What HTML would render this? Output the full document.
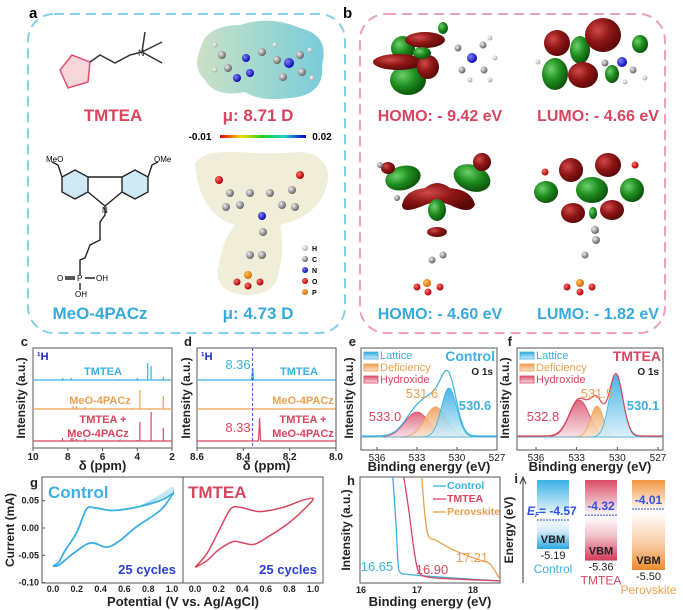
<!DOCTYPE html>
<html><head><meta charset="utf-8">
<style>
html,body{margin:0;padding:0;background:#fff;}
svg{display:block;font-family:"Liberation Sans",Arial,sans-serif;}
.b{font-weight:bold;}
</style></head>
<body>
<svg id="fig" width="683" height="610" viewBox="0 0 683 610" xmlns="http://www.w3.org/2000/svg">
<defs>
 <radialGradient id="gR" cx="35%" cy="35%" r="70%"><stop offset="0" stop-color="#d04a4a"/><stop offset="0.5" stop-color="#8e1616"/><stop offset="1" stop-color="#5a0707"/></radialGradient>
 <radialGradient id="gG" cx="35%" cy="35%" r="70%"><stop offset="0" stop-color="#6fd06f"/><stop offset="0.5" stop-color="#1f8f1f"/><stop offset="1" stop-color="#0b500b"/></radialGradient>
 <radialGradient id="atC" cx="35%" cy="35%" r="65%"><stop offset="0" stop-color="#eee"/><stop offset="1" stop-color="#666"/></radialGradient>
 <radialGradient id="atH" cx="35%" cy="35%" r="65%"><stop offset="0" stop-color="#fff"/><stop offset="1" stop-color="#aaa"/></radialGradient>
 <radialGradient id="atN" cx="35%" cy="35%" r="65%"><stop offset="0" stop-color="#8080ff"/><stop offset="1" stop-color="#0a0ab0"/></radialGradient>
 <radialGradient id="atO" cx="35%" cy="35%" r="65%"><stop offset="0" stop-color="#ff7070"/><stop offset="1" stop-color="#b00000"/></radialGradient>
 <radialGradient id="atP" cx="35%" cy="35%" r="65%"><stop offset="0" stop-color="#ffc060"/><stop offset="1" stop-color="#d07000"/></radialGradient>
 <linearGradient id="esp1" x1="0" y1="0" x2="1" y2="0"><stop offset="0" stop-color="#c8dcc0"/><stop offset="0.4" stop-color="#9fd6c8"/><stop offset="1" stop-color="#6cc6d6"/></linearGradient>
 <linearGradient id="cbar" x1="0" y1="0" x2="1" y2="0"><stop offset="0" stop-color="#e00000"/><stop offset="0.25" stop-color="#f0e000"/><stop offset="0.5" stop-color="#20d020"/><stop offset="0.75" stop-color="#20d0d0"/><stop offset="1" stop-color="#0000c0"/></linearGradient>
 <linearGradient id="fillB" x1="0" y1="0" x2="0" y2="1"><stop offset="0" stop-color="#2aa8e0"/><stop offset="1" stop-color="#d6effa"/></linearGradient>
 <linearGradient id="fillO" x1="0" y1="0" x2="0" y2="1"><stop offset="0" stop-color="#ee9a50"/><stop offset="1" stop-color="#fbe6d2"/></linearGradient>
 <linearGradient id="fillR" x1="0" y1="0" x2="0" y2="1"><stop offset="0" stop-color="#d8506a"/><stop offset="1" stop-color="#f8dde2"/></linearGradient>
 <linearGradient id="barB" x1="0" y1="0" x2="0" y2="1"><stop offset="0" stop-color="#3ab0e4"/><stop offset="0.55" stop-color="#ffffff"/><stop offset="0.75" stop-color="#cfeaf7"/><stop offset="1" stop-color="#2aa8e0"/></linearGradient>
 <linearGradient id="barR" x1="0" y1="0" x2="0" y2="1"><stop offset="0" stop-color="#d94a64"/><stop offset="0.45" stop-color="#ffffff"/><stop offset="0.7" stop-color="#f0c0c8"/><stop offset="1" stop-color="#d43a58"/></linearGradient>
 <linearGradient id="barO" x1="0" y1="0" x2="0" y2="1"><stop offset="0" stop-color="#ef9640"/><stop offset="0.35" stop-color="#ffffff"/><stop offset="0.7" stop-color="#f7cfa8"/><stop offset="1" stop-color="#ec8a30"/></linearGradient>
</defs>

<rect x="28" y="14" width="317" height="319" rx="26" fill="none" stroke="#86cfe8" stroke-width="2" stroke-dasharray="10,6"/>
<rect x="360" y="14" width="305" height="319" rx="26" fill="none" stroke="#eaa3b3" stroke-width="2" stroke-dasharray="10,6"/>
<text x="29" y="18" class="b" font-size="15">a</text>
<text x="343" y="18" class="b" font-size="15">b</text>

<g stroke="#333" stroke-width="1.5" fill="none">
 <polygon points="60,70 72,55 90,62 88,82 68,88" fill="#f7d6dc" stroke="#e05070"/>
 <path d="M90,62 L100,55 L115,63 L130,55 L142,52 M142,52 L145,32 M142,52 L162,42 M142,52 L162,63"/>
</g>
<text x="138" y="56" font-size="9" fill="#333">N</text>
<text x="113" y="121" text-anchor="middle" class="b" font-size="17" fill="#d9455f">TMTEA</text>

<g>
 <path d="M200,50 Q205,25 240,25 Q270,15 300,28 Q330,35 322,65 Q325,95 290,98 Q260,102 245,92 Q215,98 205,80 Q192,68 200,50Z" fill="url(#esp1)" opacity="0.9"/>
 <circle cx="222" cy="55" r="4" fill="url(#atC)"/><circle cx="228" cy="68" r="4" fill="url(#atC)"/>
 <circle cx="246" cy="58" r="4" fill="url(#atN)"/><circle cx="250" cy="73" r="4" fill="url(#atN)"/><circle cx="237" cy="78" r="4" fill="url(#atN)"/>
 <circle cx="262" cy="52" r="4" fill="url(#atC)"/><circle cx="277" cy="60" r="4" fill="url(#atC)"/>
 <circle cx="289" cy="63" r="5" fill="url(#atN)"/><circle cx="300" cy="55" r="4" fill="url(#atC)"/><circle cx="302" cy="72" r="4" fill="url(#atC)"/><circle cx="283" cy="77" r="4" fill="url(#atC)"/>
 <circle cx="215" cy="45" r="2.5" fill="url(#atH)"/><circle cx="215" cy="70" r="2.5" fill="url(#atH)"/><circle cx="310" cy="50" r="2.5" fill="url(#atH)"/><circle cx="312" cy="78" r="2.5" fill="url(#atH)"/><circle cx="275" cy="45" r="2.5" fill="url(#atH)"/>
</g>
<text x="258" y="121" text-anchor="middle" class="b" font-size="17" fill="#d9455f">μ: 8.71 D</text>
<text x="200" y="140" text-anchor="middle" class="b" font-size="10">-0.01</text>
<rect x="220" y="135" width="86" height="3" fill="url(#cbar)"/>
<text x="322" y="140" text-anchor="middle" class="b" font-size="10">0.02</text>

<g stroke="#222" stroke-width="1.4">
 <polygon points="75,170 88,177 88,192 75,199 62,192 62,177" fill="#cfe9f5"/>
 <polygon points="135,170 148,177 148,192 135,199 122,192 122,177" fill="#cfe9f5"/>
 <path d="M88,177 L122,177 M88,192 L105,206 L122,192 M62,177 L58,165 L52,162 M148,177 L152,165 L158,162 M105,206 L105,215 L100,222 L100,240 L90,245 L85,258 L80,260 L80,275" fill="none"/>
 <path d="M65,277 L75,277 M65,279 L75,279 M85,278 L95,278 M80,283 L80,290" fill="none"/>
</g>
<text x="46" y="162" font-size="8">MeO</text>
<text x="154" y="162" font-size="8">OMe</text>
<text x="102" y="213" font-size="8">N</text>
<text x="57" y="281" font-size="8">O</text>
<text x="77" y="281" font-size="8">P</text>
<text x="96" y="281" font-size="8">OH</text>
<text x="75" y="297" font-size="8">OH</text>
<text x="100" y="319" text-anchor="middle" class="b" font-size="17" fill="#35aadc">MeO-4PACz</text>

<g>
 <path d="M195,165 Q200,150 240,152 Q270,155 300,152 Q330,155 328,180 Q322,215 280,225 Q285,250 278,275 Q275,295 245,295 Q215,292 218,270 Q222,240 235,225 Q200,215 195,165Z" fill="#ece9cf" opacity="0.8"/>
 <circle cx="219" cy="180" r="4" fill="url(#atO)"/><circle cx="300" cy="175" r="4" fill="url(#atO)"/>
 <circle cx="230" cy="193" r="4" fill="url(#atC)"/><circle cx="240" cy="205" r="4" fill="url(#atC)"/><circle cx="250" cy="193" r="4" fill="url(#atC)"/><circle cx="270" cy="193" r="4" fill="url(#atC)"/><circle cx="282" cy="205" r="4" fill="url(#atC)"/><circle cx="292" cy="190" r="4" fill="url(#atC)"/><circle cx="226" cy="207" r="4" fill="url(#atC)"/><circle cx="295" cy="207" r="4" fill="url(#atC)"/>
 <circle cx="262" cy="216" r="4" fill="url(#atN)"/>
 <circle cx="263" cy="232" r="4" fill="url(#atC)"/><circle cx="250" cy="255" r="4" fill="url(#atC)"/><circle cx="262" cy="255" r="4" fill="url(#atC)"/>
 <circle cx="248" cy="275" r="4" fill="url(#atP)"/><circle cx="237" cy="282" r="3.5" fill="url(#atO)"/><circle cx="248" cy="286" r="3.5" fill="url(#atO)"/><circle cx="260" cy="282" r="3.5" fill="url(#atO)"/>
 <circle cx="305" cy="248" r="3" fill="url(#atH)"/><circle cx="305" cy="259" r="3" fill="url(#atC)"/><circle cx="305" cy="270" r="3" fill="url(#atN)"/><circle cx="305" cy="281" r="3" fill="url(#atO)"/><circle cx="305" cy="292" r="3" fill="url(#atP)"/>
</g>
<g font-size="7" class="b">
 <text x="312" y="251">H</text><text x="312" y="262">C</text><text x="312" y="273">N</text><text x="312" y="284">O</text><text x="312" y="295">P</text>
</g>
<text x="258" y="319" text-anchor="middle" class="b" font-size="17" fill="#35aadc">μ: 4.73 D</text>

<g>
 <ellipse cx="403" cy="48" rx="12" ry="12" fill="url(#gG)"/>
 <ellipse cx="408" cy="80" rx="18" ry="15" fill="url(#gG)"/>
 <ellipse cx="398" cy="62" rx="25" ry="8" fill="url(#gR)"/>
 <ellipse cx="425" cy="40" rx="20" ry="8" fill="url(#gR)"/>
 <ellipse cx="428" cy="67" rx="11" ry="12" fill="url(#gR)"/>
 <ellipse cx="422" cy="53" rx="9" ry="6" fill="url(#gG)"/>
 <ellipse cx="443" cy="28" rx="5" ry="6" fill="url(#gG)"/>
 <circle cx="472" cy="58" r="5" fill="url(#atN)"/><circle cx="458" cy="48" r="3.5" fill="url(#atC)"/><circle cx="462" cy="70" r="3.5" fill="url(#atC)"/><circle cx="483" cy="45" r="3.5" fill="url(#atC)"/><circle cx="484" cy="70" r="3.5" fill="url(#atC)"/>
 <circle cx="490" cy="38" r="2.5" fill="url(#atH)"/><circle cx="495" cy="58" r="2.5" fill="url(#atH)"/><circle cx="490" cy="80" r="2.5" fill="url(#atH)"/><circle cx="470" cy="80" r="2.5" fill="url(#atH)"/>
</g>
<text x="440" y="121" text-anchor="middle" class="b" font-size="16" fill="#d9455f">HOMO: - 9.42 eV</text>
<g>
 <ellipse cx="557" cy="43" rx="13" ry="13" fill="url(#gR)"/>
 <ellipse cx="580" cy="50" rx="10" ry="14" fill="url(#gG)"/>
 <ellipse cx="603" cy="35" rx="18" ry="17" fill="url(#gR)"/>
 <ellipse cx="555" cy="74" rx="13" ry="16" fill="url(#gG)"/>
 <ellipse cx="583" cy="75" rx="15" ry="13" fill="url(#gR)"/>
 <ellipse cx="640" cy="44" rx="8" ry="9" fill="url(#gG)"/>
 <ellipse cx="612" cy="74" rx="7" ry="9" fill="url(#gG)"/>
 <circle cx="622" cy="62" r="5" fill="url(#atN)"/><circle cx="633" cy="70" r="3.5" fill="url(#atC)"/><circle cx="605" cy="63" r="3.5" fill="url(#atC)"/>
 <circle cx="645" cy="78" r="2.5" fill="url(#atH)"/><circle cx="625" cy="82" r="2.5" fill="url(#atH)"/><circle cx="538" cy="62" r="2.5" fill="url(#atH)"/>
</g>
<text x="598" y="121" text-anchor="middle" class="b" font-size="16" fill="#d9455f">LUMO: - 4.66 eV</text>
<g>
 <ellipse cx="403" cy="178" rx="18" ry="12" fill="url(#gG)" transform="rotate(-15 403 178)"/>
 <ellipse cx="472" cy="178" rx="19" ry="13" fill="url(#gG)" transform="rotate(20 472 178)"/>
 <path d="M402,205 Q405,190 425,188 Q437,178 450,188 Q472,190 475,205 Q470,215 450,205 Q437,200 425,205 Q402,215 402,205Z" fill="url(#gR)"/>
 <ellipse cx="482" cy="162" rx="9" ry="9" fill="url(#gR)"/>
 <ellipse cx="388" cy="168" rx="7" ry="6" fill="url(#gR)"/>
 <ellipse cx="437" cy="210" rx="9" ry="11" fill="url(#gG)"/>
 <ellipse cx="437" cy="232" rx="10" ry="5" fill="url(#gR)"/>
 <circle cx="432" cy="260" r="3.5" fill="url(#atC)"/><circle cx="443" cy="255" r="3.5" fill="url(#atC)"/>
 <circle cx="427" cy="283" r="4" fill="url(#atP)"/><circle cx="417" cy="287" r="3.5" fill="url(#atO)"/><circle cx="428" cy="292" r="3.5" fill="url(#atO)"/><circle cx="440" cy="287" r="3.5" fill="url(#atO)"/>
 <circle cx="380" cy="165" r="3" fill="url(#atC)"/><circle cx="397" cy="198" r="3" fill="url(#atC)"/>
</g>
<text x="440" y="319" text-anchor="middle" class="b" font-size="16" fill="#35aadc">HOMO: - 4.60 eV</text>
<g>
 <ellipse cx="571" cy="170" rx="12" ry="12" fill="url(#gR)"/>
 <ellipse cx="608" cy="165" rx="13" ry="12" fill="url(#gR)"/>
 <ellipse cx="546" cy="192" rx="12" ry="11" fill="url(#gG)"/>
 <ellipse cx="592" cy="190" rx="16" ry="13" fill="url(#gG)"/>
 <ellipse cx="632" cy="190" rx="12" ry="12" fill="url(#gG)"/>
 <ellipse cx="573" cy="213" rx="12" ry="10" fill="url(#gR)"/>
 <ellipse cx="612" cy="210" rx="12" ry="10" fill="url(#gR)"/>
 <ellipse cx="593" cy="213" rx="4" ry="6" fill="url(#gG)"/>
 <circle cx="545" cy="172" r="3.5" fill="url(#atO)"/><circle cx="635" cy="165" r="3.5" fill="url(#atO)"/>
 <circle cx="595" cy="230" r="4" fill="url(#atC)"/><circle cx="596" cy="240" r="4" fill="url(#atC)"/><circle cx="585" cy="255" r="3.5" fill="url(#atC)"/>
 <circle cx="580" cy="283" r="4" fill="url(#atP)"/><circle cx="567" cy="287" r="3.5" fill="url(#atO)"/><circle cx="580" cy="292" r="3.5" fill="url(#atO)"/><circle cx="592" cy="287" r="3.5" fill="url(#atO)"/>
</g>
<text x="598" y="319" text-anchor="middle" class="b" font-size="16" fill="#35aadc">LUMO: - 1.82 eV</text>

<g id="charts"></g>
</svg>
<script>
// panel c: 1H NMR peaks (ppm, height)
const nmrTmteaPpm = [8.3, 7.8, 5.0, 4.0, 3.4, 3.2, 2.5];
const nmrTmteaH = [2, 2, 1, 2, 17, 14, 3];
const nmrMeoPpm = [7.7, 7.5, 7.0, 4.3, 3.85, 2.5];
const nmrMeoH = [3, 3, 2, 1, 19, 13];
const nmrMixPpm = [8.3, 7.8, 7.7, 7.5, 7.0, 5.0, 4.0, 3.85, 3.2, 2.5];
const nmrMixH = [3, 3, 3, 2, 2, 1, 1, 19, 29, 13];
const ppmTicksC = [10, 8, 6, 4, 2];
// panel d
const dPeakPpm = [8.36, 8.33];
const dPeakH = [12, 23];
const ppmTicksD = [8.6, 8.4, 8.2, 8.0];
// panel e/f
const xpsLabels = ["Hydroxide", "Deficiency", "Lattice"];
const xpsCtrlCenter = [533.0, 531.6, 530.6];
const xpsCtrlHeight = [25, 30, 49];
const xpsCtrlFwhm = [2.1, 1.9, 1.35];
const xpsTmCenter = [532.8, 531.5, 530.1];
const xpsTmHeight = [37, 31, 62];
const xpsTmFwhm = [1.7, 1.1, 1.2];
const beTicks = [536, 533, 530, 527];
// panel g
const cvCtrlV = [0, 0.05, 0.1, 0.2, 0.28, 0.35, 0.5, 0.7, 0.9, 1.0, 1.0, 0.9, 0.7, 0.55, 0.45, 0.35, 0.28, 0.15, 0.05, 0];
const cvCtrlI = [-0.07, -0.062, -0.042, -0.008, 0.034, 0.037, 0.032, 0.038, 0.05, 0.062, 0.06, 0.032, 0.002, -0.025, -0.035, -0.028, -0.03, -0.05, -0.068, -0.07];
const cvTmV = [0, 0.1, 0.2, 0.3, 0.38, 0.55, 0.75, 0.9, 1.0, 0.95, 0.8, 0.62, 0.5, 0.4, 0.32, 0.2, 0.1, 0];
const cvTmI = [-0.072, -0.047, -0.006, 0.034, 0.038, 0.03, 0.038, 0.05, 0.054, 0.04, 0.01, -0.016, -0.03, -0.027, -0.025, -0.04, -0.06, -0.072];
const cvXTicks = [0, 0.2, 0.4, 0.6, 0.8, 1.0];
const cvYTicks = [0.05, 0.0, -0.05, -0.10];
// panel h
const upsCtrlE = [16.56, 16.62, 16.66, 16.70, 16.85, 17.3, 18.0, 18.5];
const upsCtrlI = [1.05, 0.6, 0.2, 0.1, 0.08, 0.06, 0.035, 0.02];
const upsTmE = [16.75, 16.85, 16.95, 17.02, 17.15, 17.6, 18.5];
const upsTmI = [1.05, 0.7, 0.3, 0.12, 0.06, 0.04, 0.02];
const upsPvE = [17.08, 17.13, 17.2, 17.35, 17.7, 18.1, 18.3, 18.5];
const upsPvI = [1.05, 0.7, 0.45, 0.4, 0.3, 0.22, 0.18, 0.02];
const upsTicks = [16, 17, 18];
const upsCutoffs = ["16.65", "16.90", "17.21"];
// panel i
const levelNames = ["Control", "TMTEA", "Perovskite"];
const levelEf = [-4.57, -4.32, -4.01];
const levelVbm = [-5.19, -5.36, -5.50];

const NS = "http://www.w3.org/2000/svg";
const root = document.getElementById("charts");
function mk(tag, attrs, parent, text) {
  const e = document.createElementNS(NS, tag);
  for (const k in attrs) e.setAttribute(k, attrs[k]);
  if (text !== undefined) e.textContent = text;
  (parent || root).appendChild(e);
  return e;
}
function smooth(pts) {
  let d = "M" + pts[0][0].toFixed(1) + "," + pts[0][1].toFixed(1);
  for (let i = 0; i < pts.length - 1; i++) {
    const p0 = pts[i - 1] || pts[i], p1 = pts[i], p2 = pts[i + 1], p3 = pts[i + 2] || p2;
    const c1x = p1[0] + (p2[0] - p0[0]) / 6, c1y = p1[1] + (p2[1] - p0[1]) / 6;
    const c2x = p2[0] - (p3[0] - p1[0]) / 6, c2y = p2[1] - (p3[1] - p1[1]) / 6;
    d += " C" + c1x.toFixed(1) + "," + c1y.toFixed(1) + " " + c2x.toFixed(1) + "," + c2y.toFixed(1) + " " + p2[0].toFixed(1) + "," + p2[1].toFixed(1);
  }
  return d;
}
const BLUE = "#3cb1e2", RED = "#d9455f", ORANGE = "#eda04e", DBLUE = "#2a3fd6";
function frame(x, y, w, h, name) {
  const r = mk("rect", {x: x, y: y, width: w, height: h, fill: "none", stroke: "#555", "stroke-width": 1});
  
  
}
function label(x, y, txt, opts, name) {
  const a = Object.assign({x: x, y: y, "font-size": 11, "font-weight": "bold", fill: "#222"}, opts || {});
  const t = mk("text", a, root, txt);
  
  
  return t;
}
function ytitle(x, y, txt, name) {
  return label(x, y, txt, {"text-anchor": "middle", "font-size": 12, transform: "rotate(-90 " + x + " " + y + ")"}, name);
}

// panel c
(function () {
  const x0 = 33, x1 = 172, top = 348, bot = 448;
  const xs = p => x0 + (10 - p) / 8 * (x1 - x0);
  frame(x0, top, x1 - x0, bot - top, "panel-c-frame");
  label(x0 - 5, top - 2, "c", {"font-size": 13, "text-anchor": "end"}, "panel-c-label");
  label(37, 360, "¹H", {fill: "#1a2fb0"}, "nucleus-label-c");
  ytitle(25, 398, "Intensity (a.u.)", "y-axis-title-c");
  ppmTicksC.forEach(p => {
    const l = mk("line", {x1: xs(p), x2: xs(p), y1: bot, y2: bot + 3, stroke: "#555"});
    
    
    label(xs(p), bot + 12, String(p), {"text-anchor": "middle", "font-size": 10}, "x-tick-label-c");
  });
  label((x0 + x1) / 2, 470, "δ (ppm)", {"text-anchor": "middle", "font-size": 13}, "x-axis-title-c");
  const sets = [[nmrTmteaPpm, nmrTmteaH, 380, BLUE, "spectrum-tmtea"], [nmrMeoPpm, nmrMeoH, 409, ORANGE, "spectrum-meo4pacz"], [nmrMixPpm, nmrMixH, 441, RED, "spectrum-mixture"]];
  sets.forEach(s => {
    let d = "M" + x0 + "," + s[2] + " L" + x1 + "," + s[2];
    s[0].forEach((p, i) => { d += " M" + xs(p).toFixed(1) + "," + s[2] + " L" + xs(p).toFixed(1) + "," + (s[2] - s[1][i]); });
    const path = mk("path", {d: d, stroke: s[3], "stroke-width": 1.2, fill: "none"});
    
    
  });
  label(103, 375, "TMTEA", {"text-anchor": "middle", fill: BLUE}, "series-label-tmtea-c");
  label(100, 404, "MeO-4PACz", {"text-anchor": "middle", fill: ORANGE}, "series-label-meo-c");
  label(103, 423, "TMTEA +", {"text-anchor": "middle", fill: RED}, "series-label-mix1-c");
  label(98, 437, "MeO-4PACz", {"text-anchor": "middle", fill: RED}, "series-label-mix2-c");
})();

// panel d
(function () {
  const x0 = 197, x1 = 336, top = 348, bot = 448;
  const xs = p => x0 + (8.6 - p) / 0.6 * (x1 - x0);
  frame(x0, top, x1 - x0, bot - top, "panel-d-frame");
  label(x0 - 5, top - 2, "d", {"font-size": 13, "text-anchor": "end"}, "panel-d-label");
  label(201, 360, "¹H", {fill: "#1a2fb0"}, "nucleus-label-d");
  ytitle(190, 398, "Intensity (a.u.)", "y-axis-title-d");
  ppmTicksD.forEach(p => {
    const l = mk("line", {x1: xs(p), x2: xs(p), y1: bot, y2: bot + 3, stroke: "#555"});
    
    
    label(xs(p), bot + 12, p.toFixed(1), {"text-anchor": "middle", "font-size": 10}, "x-tick-label-d");
  });
  label((x0 + x1) / 2, 470, "δ (ppm)", {"text-anchor": "middle", "font-size": 13}, "x-axis-title-d");
  const base = [380, 409, 441], cols = [BLUE, ORANGE, RED];
  const peakOf = [0, -1, 1];
  base.forEach((b, k) => {
    const pts = [];
    for (let p = 8.6; p >= 8.0; p -= 0.002) {
      let v = 0;
      if (peakOf[k] >= 0) { const c = dPeakPpm[peakOf[k]]; v = dPeakH[peakOf[k]] * Math.exp(-Math.pow((p - c) / 0.0025, 2)); }
      pts.push(xs(p).toFixed(1) + "," + (b - v).toFixed(1));
    }
    const pl = mk("polyline", {points: pts.join(" "), fill: "none", stroke: cols[k], "stroke-width": 1.2});
    
    
  });
  const dl = mk("line", {x1: xs(dPeakPpm[0]), x2: xs(dPeakPpm[0]), y1: top, y2: bot, stroke: "#3a50e0", "stroke-dasharray": "3,2"});
  
  
  label(238, 369, dPeakPpm[0].toFixed(2), {"text-anchor": "middle", "font-size": 13, fill: BLUE, "font-weight": "normal"}, "peak-label-836");
  label(238, 432, dPeakPpm[1].toFixed(2), {"text-anchor": "middle", "font-size": 13, fill: RED, "font-weight": "normal"}, "peak-label-833");
  label(299, 375, "TMTEA", {"text-anchor": "middle", fill: BLUE}, "series-label-tmtea-d");
  label(303, 404, "MeO-4PACz", {"text-anchor": "middle", fill: ORANGE}, "series-label-meo-d");
  label(303, 423, "TMTEA +", {"text-anchor": "middle", fill: RED}, "series-label-mix1-d");
  label(303, 437, "MeO-4PACz", {"text-anchor": "middle", fill: RED}, "series-label-mix2-d");
})();

// panels e, f
function xps(x0, x1, e536, e527, centers, heights, fwhm, envColor, title, titleColor, letter, labelPos) {
  const top = 348, bot = 450, base = 437;
  const xs = E => e536 + (536 - E) / 9 * (e527 - e536);
  const Emin = 536 + (e536 - x0) / ((e527 - e536) / 9), Emax = 536 - (x1 - e536) / ((e527 - e536) / 9);
  frame(x0, top, x1 - x0, bot - top, "panel-" + letter + "-frame");
  label(x0 - 5, top - 2, letter, {"font-size": 13, "text-anchor": "end"}, "panel-" + letter + "-label");
  ytitle(x0 - 8, 398, "Intensity (a.u.)", "y-axis-title-" + letter);
  beTicks.forEach(E => {
    const l = mk("line", {x1: xs(E), x2: xs(E), y1: bot, y2: bot - 3, stroke: "#555"});
    
    
    label(xs(E), bot + 11, String(E), {"text-anchor": "middle", "font-size": 10, "font-weight": "normal"}, "x-tick-label-" + letter);
  });
  label((x0 + x1) / 2, 471, "Binding energy (eV)", {"text-anchor": "middle", "font-size": 13}, "x-axis-title-" + letter);
  const g = E => centers.map((c, i) => heights[i] * Math.exp(-4 * Math.LN2 * Math.pow((E - c) / fwhm[i], 2)));
  const fills = ["url(#fillR)", "url(#fillO)", "url(#fillB)"], strokes = [RED, ORANGE, BLUE];
  for (let i = 0; i < centers.length; i++) {
    let d = "M" + xs(Emin).toFixed(1) + "," + base;
    for (let E = Emin; E >= Emax; E -= 0.05) d += " L" + xs(E).toFixed(1) + "," + (base - g(E)[i]).toFixed(1);
    d += " L" + xs(Emax).toFixed(1) + "," + base + " Z";
    const p = mk("path", {d: d, fill: fills[i], stroke: strokes[i], "stroke-width": 0.8, "fill-opacity": 0.85});
    
    
  }
  let pts = [];
  for (let E = Emin; E >= Emax; E -= 0.05) pts.push(xs(E).toFixed(1) + "," + (base - g(E).reduce((a, b) => a + b, 0) - 1).toFixed(1));
  const env = mk("polyline", {points: pts.join(" "), fill: "none", stroke: envColor, "stroke-width": 1.2});
  
  
  [["Lattice", "url(#fillB)", BLUE, 359], ["Deficiency", "url(#fillO)", ORANGE, 371], ["Hydroxide", "url(#fillR)", RED, 383]].forEach(r => {
    const s = mk("rect", {x: x0 + 3, y: r[3] - 7, width: 14, height: 7, fill: r[1], stroke: r[2], "stroke-width": 0.8});
    
    
    label(x0 + 19, r[3], r[0], {"font-size": 11, fill: r[2], "font-weight": "normal"}, "legend-entry-" + letter);
  });
  label(x1 - 2, 361, title, {"text-anchor": "end", "font-size": 14, fill: titleColor}, "sample-title-" + letter);
  label(x1 - 4, 375, "O 1s", {"text-anchor": "end", "font-size": 10}, "o1s-label-" + letter);
  const cols = [RED, ORANGE, BLUE];
  centers.forEach((c, i) => label(labelPos[i][0], labelPos[i][1], c.toFixed(1), {"text-anchor": "middle", "font-size": 13, fill: cols[i], "font-weight": i === 2 ? "bold" : "normal"}, "peak-value-" + letter));
}
xps(361, 497, 377, 497, xpsCtrlCenter, xpsCtrlHeight, xpsCtrlFwhm, BLUE, "Control", BLUE, "e", [[385, 421], [422, 398], [475, 410]]);
xps(517, 663, 536, 658, xpsTmCenter, xpsTmHeight, xpsTmFwhm, RED, "TMTEA", RED, "f", [[543, 421], [597, 398], [643, 410]]);

// panel g
(function () {
  const top = 477, bot = 583;
  const y = i => 528 - i * 546;
  const xL = v => 53 + v * 119, xR = v => 195 + v * 118;
  frame(42, top, 141, bot - top, "cv-control-frame");
  frame(183, top, 140, bot - top, "cv-tmtea-frame");
  label(30, 487, "g", {"font-size": 13}, "panel-g-label");
  ytitle(14, 530, "Current (mA)", "y-axis-title-g");
  cvYTicks.forEach(t => {
    label(39, y(t) + 3, t.toFixed(2), {"text-anchor": "end", "font-size": 9}, "y-tick-label-g");
    const l = mk("line", {x1: 42, x2: 45, y1: y(t), y2: y(t), stroke: "#555"});
    
    
  });
  cvXTicks.forEach(v => {
    [xL, xR].forEach(f => label(f(v), 592, v.toFixed(1), {"text-anchor": "middle", "font-size": 9}, "x-tick-label-g"));
  });
  label(183, 606, "Potential (V vs. Ag/AgCl)", {"text-anchor": "middle", "font-size": 13}, "x-axis-title-g");
  for (let k = 0; k < 6; k++) {
    const s = 1 + k * 0.04;
    const pts = cvCtrlV.map((v, i) => [xL(v), y(cvCtrlI[i] * (v > 0.8 && i < 10 ? s : 1))]);
    const p = mk("path", {d: smooth(pts), fill: "none", stroke: BLUE, "stroke-width": k === 0 ? 1.8 : 0.8, opacity: k === 0 ? 1 : 0.4});
    
    
  }
  const p2 = mk("path", {d: smooth(cvTmV.map((v, i) => [xR(v), y(cvTmI[i])])), fill: "none", stroke: RED, "stroke-width": 1.5});
  
  
  label(48, 498, "Control", {"font-size": 17, fill: BLUE}, "cv-control-title");
  label(188, 498, "TMTEA", {"font-size": 17, fill: RED}, "cv-tmtea-title");
  label(176, 574, "25 cycles", {"text-anchor": "end", "font-size": 13, fill: DBLUE}, "cycles-label-control");
  label(317, 574, "25 cycles", {"text-anchor": "end", "font-size": 13, fill: DBLUE}, "cycles-label-tmtea");
})();

// panel h
(function () {
  const x0 = 360, x1 = 500, top = 477, bot = 583;
  const xs = E => 361 + (E - 16) * 56;
  const ys = I => bot - I * (bot - top);
  frame(x0, top, x1 - x0, bot - top, "panel-h-frame");
  label(x0 - 5, top + 8, "h", {"font-size": 13, "text-anchor": "end"}, "panel-h-label");
  ytitle(350, 530, "Intensity (a.u.)", "y-axis-title-h");
  upsTicks.forEach(E => {
    label(xs(E), 593, String(E), {"text-anchor": "middle", "font-size": 9}, "x-tick-label-h");
  });
  label(430, 606, "Binding energy (eV)", {"text-anchor": "middle", "font-size": 13}, "x-axis-title-h");
  const cp = mk("clipPath", {id: "clipH"});
  mk("rect", {x: x0, y: top, width: x1 - x0, height: bot - top}, cp);
  [[upsCtrlE, upsCtrlI, BLUE, "ups-control"], [upsTmE, upsTmI, RED, "ups-tmtea"], [upsPvE, upsPvI, ORANGE, "ups-perovskite"]].forEach(s => {
    const p = mk("path", {d: smooth(s[0].map((E, i) => [xs(E), ys(s[1][i])])), fill: "none", stroke: s[2], "stroke-width": 1.3, "clip-path": "url(#clipH)"});
    
    
  });
  [["Control", BLUE, 489], ["TMTEA", RED, 502], ["Perovskite", ORANGE, 515]].forEach(r => {
    const l = mk("line", {x1: 433, x2: 446, y1: r[2] - 3, y2: r[2] - 3, stroke: r[1], "stroke-width": 1.3});
    
    
    label(447, r[2], r[0], {"font-size": 10.5, fill: r[1]}, "legend-entry-h");
  });
  label(377, 571, upsCutoffs[0], {"text-anchor": "middle", "font-size": 13, fill: BLUE, "font-weight": "normal"}, "cutoff-control");
  label(432, 574, upsCutoffs[1], {"text-anchor": "middle", "font-size": 13, fill: RED, "font-weight": "normal"}, "cutoff-tmtea");
  label(472, 562, upsCutoffs[2], {"text-anchor": "middle", "font-size": 13, fill: ORANGE, "font-weight": "normal"}, "cutoff-perovskite");
})();

// panel i
(function () {
  const ax = 523;
  const a = mk("path", {d: "M" + ax + ",583 L" + ax + ",479 M" + (ax - 3) + ",484 L" + ax + ",477 L" + (ax + 3) + ",484", stroke: "#333", "stroke-width": 1, fill: "none"});
  
  
  label(518, 483, "i", {"font-size": 13, "text-anchor": "end"}, "panel-i-label");
  ytitle(513, 530, "Energy (eV)", "y-axis-title-i");
  const yV = E => 549 + (-5.19 - E) * 68;
  const yF = E => 509 + (-4.01 - E) * 19.6;
  const bx = [537, 585, 632], bw = [32, 32, 33];
  const grads = ["url(#barB)", "url(#barR)", "url(#barO)"], cols = [BLUE, RED, ORANGE];
  levelNames.forEach((n, i) => {
    const yb = yV(levelVbm[i]);
    const r = mk("rect", {x: bx[i], y: 480, width: bw[i], height: yb - 480, fill: grads[i]});
    
    
    const yf = yF(levelEf[i]);
    const l = mk("line", {x1: bx[i], x2: bx[i] + bw[i], y1: yf, y2: yf, stroke: "#3050e0", "stroke-dasharray": "2,1", "stroke-width": 1});
    
    
    if (i === 0) {
      label(539, yf - 5, "= " + levelEf[i].toFixed(2), {"font-size": 12, fill: "#3050e0"}, "fermi-value-" + n.toLowerCase());
    } else {
      label(bx[i] + bw[i] / 2, yf - 5, levelEf[i].toFixed(2), {"text-anchor": "middle", "font-size": 12, fill: "#3050e0"}, "fermi-value-" + n.toLowerCase());
    }
    label(bx[i] + bw[i] / 2, yb - 6, "VBM", {"text-anchor": "middle", "font-size": 11}, "vbm-label-" + n.toLowerCase());
    label(bx[i] + bw[i] / 2, yb + 10, levelVbm[i].toFixed(2), {"text-anchor": "middle", "font-size": 11, "font-weight": "normal"}, "vbm-value-" + n.toLowerCase());
    label(bx[i] + bw[i] / 2, yb + 24, n, {"text-anchor": "middle", "font-size": 12, fill: cols[i], "font-weight": "normal"}, "sample-name-" + n.toLowerCase());
  });
  const ef = label(527, yF(levelEf[0]) - 5, "E", {"font-size": 12, fill: "#3050e0", "font-style": "italic"}, "fermi-symbol");
  const sub = mk("tspan", {"font-size": 7, dy: 2}, ef, "F");
  
  
})();
</script>
</body></html>
